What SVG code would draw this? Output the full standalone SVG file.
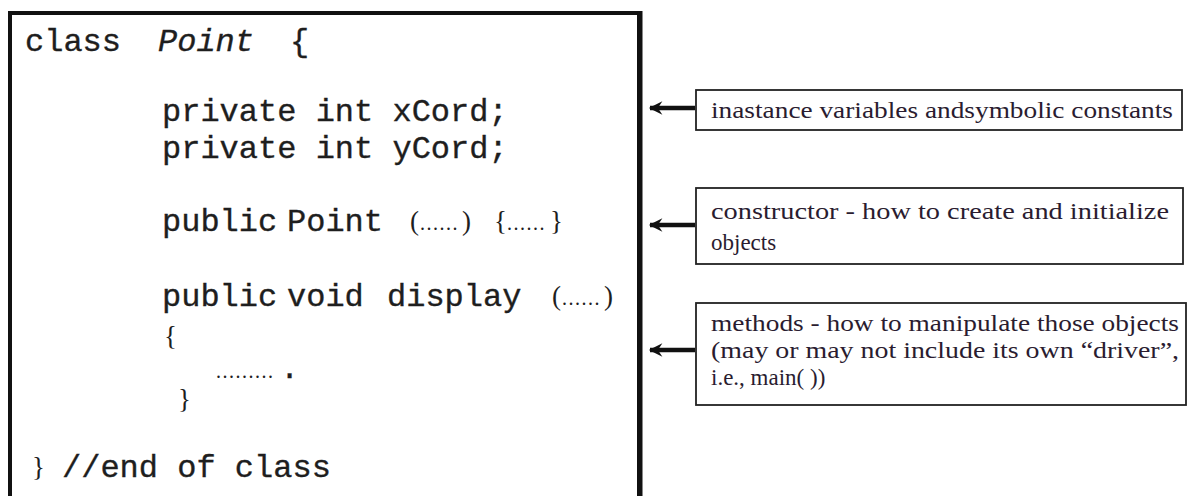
<svg xmlns="http://www.w3.org/2000/svg" width="1190" height="496" viewBox="0 0 1190 496">
<style>
.code{font-family:"Liberation Mono","Courier New",monospace;font-size:32px;fill:#1e1e1e;stroke:#1e1e1e;stroke-width:0.35}
.ser{font-family:"Liberation Serif","Times New Roman",serif;font-size:27px;fill:#1e1e1e}
.dots{font-family:"Liberation Serif","Times New Roman",serif;font-size:20px;letter-spacing:1.5px;fill:#1e1e1e}
.note{font-family:"Liberation Serif","Times New Roman",serif;font-size:23px;fill:#2a1c30}
.nbox{fill:#fff;stroke:#222;stroke-width:1.8}
.conn{stroke:#111;stroke-width:4.5;fill:none}
</style>
<defs>
<marker id="ah" viewBox="0 0 12 12" refX="11" refY="6" markerWidth="3.2" markerHeight="3" orient="auto" markerUnits="strokeWidth">
<path d="M12,6 L0,0 L4,6 L0,12 Z" fill="#111"/>
</marker>
</defs>
<rect width="1190" height="496" fill="#fff"/>
<g id="classBox">
<rect x="10" y="13" width="629" height="500" fill="#fff" stroke="#111" stroke-width="4"/>
<line x1="640" y1="11" x2="640" y2="496" stroke="#111" stroke-width="5"/>
<text class="code" x="25" y="51">class</text>
<text class="code" x="158" y="51" font-style="italic">Point</text>
<text class="code" x="290" y="51">{</text>
<text class="code" x="162" y="121">private int xCord;</text>
<text class="code" x="162" y="158">private int yCord;</text>
<text class="code" x="162" y="231">public</text>
<text class="code" x="287" y="231">Point</text>
<text class="ser" x="410" y="230">(</text>
<text class="dots" x="420" y="230">......</text>
<text class="ser" x="462" y="230">)</text>
<text class="ser" x="494" y="230">{</text>
<text class="dots" x="507" y="230">......</text>
<text class="ser" x="550" y="230">}</text>
<text class="code" x="162" y="306">public</text>
<text class="code" x="287" y="306">void</text>
<text class="code" x="387" y="306">display</text>
<text class="ser" x="552" y="305">(</text>
<text class="dots" x="562" y="305">......</text>
<text class="ser" x="604" y="305">)</text>
<text class="ser" x="164" y="345">{</text>
<text class="dots" x="216" y="378" letter-spacing="0">.........</text>
<text class="code" x="280" y="378">.</text>
<text class="ser" x="178" y="408">}</text>
<text class="ser" x="32" y="476">}</text>
<text class="code" x="62" y="477">//end of class</text>
</g>
<g id="connectors">
<line class="conn" x1="695" y1="108" x2="650" y2="108" marker-end="url(#ah)"/>
<line class="conn" x1="695" y1="225" x2="650" y2="225" marker-end="url(#ah)"/>
<line class="conn" x1="695" y1="350" x2="650" y2="350" marker-end="url(#ah)"/>
</g>
<g id="note1">
<rect class="nbox" x="696" y="90" width="486" height="40"/>
<text class="note" x="711" y="118" textLength="462" lengthAdjust="spacingAndGlyphs">inastance variables andsymbolic constants</text>
</g>
<g id="note2">
<rect class="nbox" x="696" y="188" width="487" height="76"/>
<text class="note" x="711" y="219" textLength="458" lengthAdjust="spacingAndGlyphs">constructor - how to create and initialize</text>
<text class="note" x="711" y="250">objects</text>
</g>
<g id="note3">
<rect class="nbox" x="696" y="303" width="490" height="102"/>
<text class="note" x="711" y="331" textLength="468" lengthAdjust="spacingAndGlyphs">methods - how to manipulate those objects</text>
<text class="note" x="711" y="358" textLength="468" lengthAdjust="spacingAndGlyphs">(may or may not include its own “driver”,</text>
<text class="note" x="711" y="385">i.e., main( ))</text>
</g>
</svg>
